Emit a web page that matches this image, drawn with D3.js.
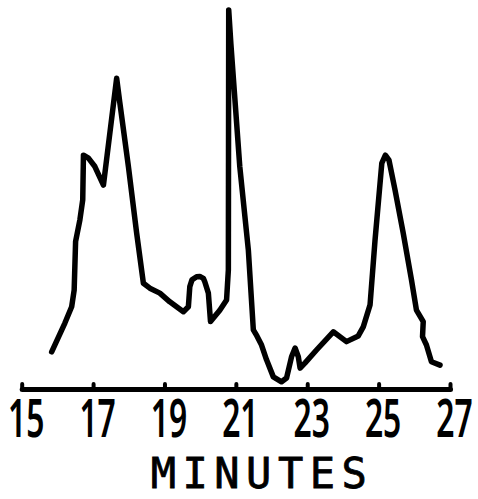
<!DOCTYPE html>
<html>
<head>
<meta charset="utf-8">
<script src="https://cdn.jsdelivr.net/npm/d3@7"></script>
<style>
  html, body { margin: 0; padding: 0; background: #fff; }
  svg { display: block; }
</style>
</head>
<body>
<svg id="chart" width="478" height="499"></svg>
<script>
// Retention time (minutes) and detector response (relative units) of the trace
const minutes = [
  15.84, 16.21, 16.40, 16.47, 16.51, 16.63, 16.71, 16.73, 16.87, 17.05,
  17.29, 17.66, 17.75, 17.99, 18.22, 18.41, 18.59, 18.87, 19.15, 19.53,
  19.67, 19.71, 19.77, 19.90, 19.99, 20.09, 20.13, 20.23, 20.29, 20.55,
  20.74, 20.79, 20.80, 20.86, 21.11, 21.35, 21.49, 21.59, 21.72, 21.86,
  22.05, 22.28, 22.42, 22.56, 22.66, 22.75, 22.80, 22.94, 23.26, 23.73,
  24.10, 24.43, 24.57, 24.76, 24.90, 25.09, 25.19, 25.29, 25.46, 25.69,
  25.92, 26.06, 26.25, 26.23, 26.34, 26.48, 26.72
];
const response = [
   9.8, 17.4, 21.7, 26.1, 38.9, 44.6, 49.9, 61.7, 60.9, 58.7,
  53.8, 82.0, 75.5, 58.7, 41.2, 27.9, 26.6, 25.3, 23.0, 20.4,
  21.7, 27.0, 28.8, 29.6, 29.7, 29.2, 28.3, 25.3, 17.8, 20.8,
  23.5, 31.4, 100.0, 91.2, 58.7, 36.7, 15.6, 14.0, 11.6,  7.7,
   3.2,  1.9,  2.9,  8.5, 10.8,  8.5,  5.5,  6.9, 10.3, 15.1,
  12.5, 14.0, 16.4, 22.2, 39.3, 59.6, 61.7, 60.4, 52.5, 41.1,
  28.8, 20.8, 17.8, 13.8, 11.6,  7.2,  6.3
];
const tickValues = [15, 17, 19, 21, 23, 25, 27];
const axisTitle = "MINUTES";

const svg = d3.select("#chart");

const x = d3.scaleLinear().domain([15, 27]).range([21.7, 450]);
const y = d3.scaleLinear().domain([0, 100]).range([389, 10]);

const points = minutes.map((m, i) => [m, response[i]]);

// Trace
const line = d3.line()
  .x(d => x(d[0]))
  .y(d => y(d[1]))
  .curve(d3.curveLinear);

svg.append("path")
  .datum(points)
  .attr("d", line)
  .attr("fill", "none")
  .attr("stroke", "#000")
  .attr("stroke-width", 5.5)
  .attr("stroke-linejoin", "round")
  .attr("stroke-linecap", "round");

// Time axis with small upward ticks
const axis = d3.axisBottom(x)
  .tickValues(tickValues)
  .tickFormat(d3.format("d"))
  .tickSizeInner(-5)
  .tickSizeOuter(0)
  .tickPadding(0);

const gAxis = svg.append("g")
  .attr("transform", `translate(0,${y(0)})`)
  .call(axis);

gAxis.select(".domain")
  .attr("stroke", "#000")
  .attr("stroke-width", 5)
  .attr("stroke-linecap", "round");

gAxis.selectAll(".tick line")
  .attr("stroke", "#000")
  .attr("stroke-width", 4)
  .attr("stroke-linecap", "round");

gAxis.selectAll(".tick text")
  .attr("fill", "#000")
  .attr("font-family", "'Noto Sans', sans-serif")
  .attr("font-weight", 600)
  .attr("font-size", 53)
  .attr("dy", null)
  .attr("y", 48)
  .attr("transform", "translate(4,0) scale(0.6,1)")
  .attr("text-anchor", "middle");

// Axis title
svg.append("text")
  .attr("x", 262)
  .attr("y", 488)
  .attr("text-anchor", "middle")
  .attr("font-family", "'DejaVu Sans Mono', monospace")
  .attr("font-size", 42)
  .attr("letter-spacing", 6.5)
  .attr("fill", "#000")
  .attr("stroke", "#000")
  .attr("stroke-width", 0.8)
  .text(axisTitle);
</script>
</body>
</html>
